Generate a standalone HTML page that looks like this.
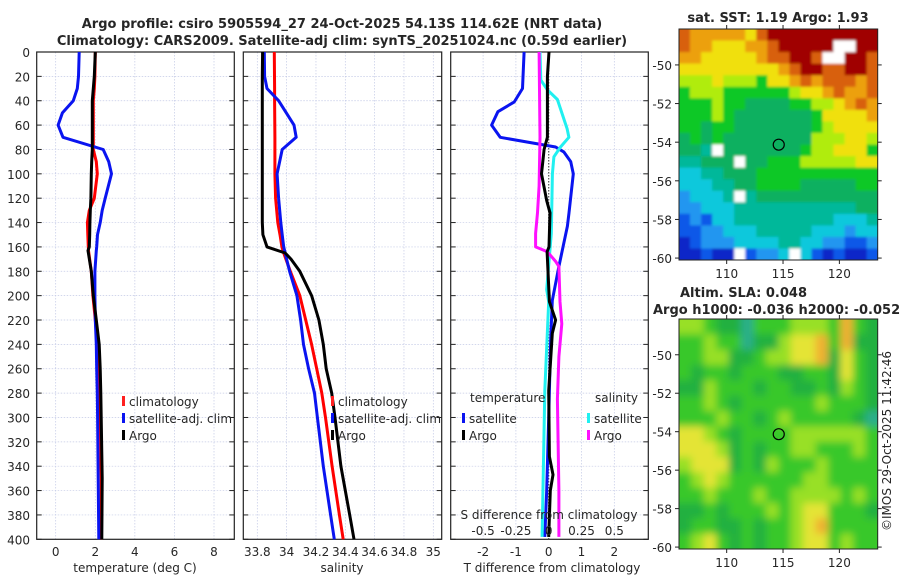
<!DOCTYPE html>
<html><head><meta charset="utf-8"><style>
body{margin:0;background:#fff;}
svg{display:block;font-family:"DejaVu Sans","Liberation Sans",sans-serif;}
</style></head><body>
<svg id="c" width="900" height="580" viewBox="0 0 900 580" xmlns="http://www.w3.org/2000/svg">
<defs>
<filter id="blur" x="-5%" y="-5%" width="110%" height="110%"><feGaussianBlur stdDeviation="4"/></filter>
<filter id="blur2" x="-5%" y="-5%" width="110%" height="110%"><feGaussianBlur stdDeviation="1.2"/></filter>
<clipPath id="clipSla"><rect x="679" y="319" width="198.7" height="230"/></clipPath>
<clipPath id="clipSst"><rect x="679" y="29" width="198.7" height="231"/></clipPath>
</defs>
</svg>
<script>
// ---------- data ----------
const tDepth   = [0,20,30,40,50,60,70,80,90,100,120,130,140,150,160,163,180,200,220,240,260,280,300,350,400];
const tArgo    = [2.0,1.95,1.9,1.85,1.85,1.85,1.85,1.85,1.82,1.8,1.78,1.75,1.73,1.72,1.7,1.63,1.8,1.9,2.05,2.2,2.25,2.28,2.3,2.35,2.33];
const tClim    = [2.0,1.98,1.95,1.9,1.9,1.9,1.9,1.9,2.05,2.1,1.95,1.7,1.6,1.62,1.65,1.66,1.8,1.88,2.0,2.1,2.15,2.2,2.25,2.3,2.3];
const tSat     = [1.19,1.15,1.09,0.89,0.34,0.12,0.37,2.4,2.68,2.82,2.5,2.35,2.25,2.11,2.07,2.05,1.98,1.98,2.0,2.05,2.07,2.1,2.12,2.15,2.18];
const sDepth   = [0,20,30,40,60,70,80,100,120,140,150,160,165,170,180,200,220,240,260,280,300,340,380,400];
const sArgo    = [33.836,33.834,33.834,33.834,33.834,33.834,33.834,33.834,33.834,33.834,33.838,33.866,33.99,34.03,34.09,34.17,34.22,34.25,34.27,34.307,34.33,34.37,34.43,34.459];
const sClim    = [33.916,33.917,33.918,33.918,33.919,33.92,33.92,33.92,33.925,33.94,33.955,33.968,33.98,33.995,34.025,34.09,34.13,34.17,34.205,34.24,34.265,34.31,34.36,34.386];
const sSat     = [33.848,33.85,33.866,33.945,34.05,34.065,33.97,33.935,33.945,33.96,33.97,33.98,33.99,34.0,34.02,34.07,34.095,34.115,34.15,34.19,34.21,34.25,34.3,34.325];
const dTdepth  = [0,30,41,49,60,70,78,82,90,100,132,143,176,204,236,300,360,398];
const dTsat    = [-0.75,-0.8,-1.05,-1.55,-1.74,-1.48,0.21,0.46,0.67,0.75,0.62,0.57,0.31,0.11,0.06,0.0,-0.06,-0.12];
const dAdepth  = [0,20,50,70,80,100,122,132,160,164,205,220,231,278,332,347,360,398];
const dTargo   = [0.01,-0.04,-0.04,-0.04,-0.14,-0.22,-0.06,0.04,0.01,-0.05,0.02,0.21,0.11,0.0,0.02,0.13,0.05,0.0];
const dSdepth  = [0,23,31,39,63,70,78,86,100,149,195,205,278,398];
const dSsat    = [-0.066,-0.06,-0.01,0.066,0.14,0.154,0.09,0.04,0.028,0.02,-0.015,0.0,-0.03,-0.05];
const dMdepth  = [0,70,110,132,149,160,164,172,176,205,223,250,285,360,398];
const dSargo   = [-0.073,-0.066,-0.073,-0.085,-0.1,-0.1,-0.01,0.053,0.078,0.086,0.10,0.078,0.066,0.078,0.078];
const depthTicks = [0,20,40,60,80,100,120,140,160,180,200,220,240,260,280,300,320,340,360,380,400];
const tTicks = [0,2,4,6,8];
const sTicks = [33.8,34,34.2,34.4,34.6,34.8,35];
const sTickLabels = ["33.8","34","34.2","34.4","34.6","34.8","35"];
const dTticks = [-2,-1,0,1,2];
const dSticks = [-0.5,-0.25,0,0.25,0.5];
const latTicks = [-50,-52,-54,-56,-58,-60];
const lonTicks = [110,115,120];
const argoLon = 114.62, argoLat = -54.13;
const sstGrid = [
"a999998abbbbbbbbbb",
"a9988899abbbbbWWbb",
"99888889aabbaWWbba",
"8888888889abbaabba",
"77787776889a9aaa9a",
"67776666667889a99a",
"6667665555667789a9",
"666765555555688889",
"665665555555678888",
"565655555555777887",
"554W55555556778886",
"44555W556667777788",
"334455566666666666",
"333445566665555566",
"23334W455555555555",
"223334444444444455",
"121334444444443334",
"112233344444333233",
"012223333443322112",
"00100W1223W3101001"];
const slaGrid = [
"7765546667776965",
"6676645578896955",
"6677556778895865",
"6566566655665865",
"5576665665565765",
"6676566666676665",
"6667665676666654",
"8876566667777776",
"8887565667766676",
"7888565766676666",
"6787666666776666",
"6676667667777676",
"5565666767886665",
"5665565667896666",
"6786565667886766"];
const sstColors = {"0":"#0a28c8","1":"#1058e8","2":"#2096f0","3":"#10c8dc","4":"#00b89a","5":"#10b060","6":"#10c828","7":"#b0ec10","8":"#f0e010","9":"#eca010","a":"#d86008","b":"#a00000","W":"#ffffff"};
const slaColors = {"4":"#2aae8a","5":"#22b040","6":"#38c82a","7":"#98e028","8":"#e4e434","9":"#f0b030"};

// ---------- helpers ----------
const NS="http://www.w3.org/2000/svg";
const svg=document.getElementById('c');
function mk(tag,attrs,parent){const e=document.createElementNS(NS,tag);for(const k in attrs)e.setAttribute(k,attrs[k]);(parent||svg).appendChild(e);return e;}
function txt(s,x,y,o,parent){o=o||{};const e=mk('text',{x:x,y:y,'font-size':o.fs||12,fill:o.fill||'#262626','text-anchor':o.anchor||'start','font-weight':o.bold?'bold':'normal'},parent);if(o.rot)e.setAttribute('transform',o.rot);e.textContent=s;return e;}
const PT=52, PB=539.3;
const yD=d=>PT+(d/400)*(PB-PT);
function lin(d0,d1,r0,r1){return v=>r0+(v-d0)/(d1-d0)*(r1-r0);}
const xT=lin(0,8,55.7,214);
const xS=lin(33.8,35,257.3,433.3);
const xDT=lin(0,2,548.7,614.3);
const xDS=lin(0,0.5,548.7,614.3);

function panel(name,x0,x1,xticks,xf){
  const g=mk('g',{},svg);
  
  
  depthTicks.forEach(d=>{const y=yD(d);mk('line',{x1:x0,x2:x1,y1:y,y2:y,stroke:'#c4cae6','stroke-width':0.7,'stroke-dasharray':'1.5,1.5'},g);
    mk('line',{x1:x0,x2:x0+5,y1:y,y2:y,stroke:'#222'},g);mk('line',{x1:x1-5,x2:x1,y1:y,y2:y,stroke:'#222'},g);});
  xticks.forEach(v=>{const x=xf(v);mk('line',{x1:x,x2:x,y1:PT,y2:PB,stroke:'#c4cae6','stroke-width':0.7,'stroke-dasharray':'1.5,1.5'},g);});
  mk('rect',{x:x0,y:PT,width:x1-x0,height:PB-PT,fill:'none',stroke:'#222','stroke-width':1.2},g);
  return g;
}
function line(g,name,xs,ds,xf,color,w,dash){
  const p=xs.map((v,i)=>xf(v).toFixed(1)+','+yD(ds[i]).toFixed(1)).join(' ');
  const e=mk('polyline',{points:p,fill:'none',stroke:color,'stroke-width':w||3,'stroke-linejoin':'round'},g);
  if(dash)e.setAttribute('stroke-dasharray',dash);
  
  
}
function legend(g,x,y,label,color,name){
  mk('rect',{x:x,y:y-10,width:3,height:10,fill:color},g);
  const t=txt(label,x+7,y,{},g);
  
  
}

const t1=txt('Argo profile: csiro 5905594_27 24-Oct-2025 54.13S 114.62E (NRT data)',342,28,{bold:true,anchor:'middle',fs:13});


const t2=txt('Climatology: CARS2009. Satellite-adj clim: synTS_20251024.nc (0.59d earlier)',342,45,{bold:true,anchor:'middle',fs:13});



depthTicks.forEach(d=>{const e=txt(String(d),30,yD(d)+5,{anchor:'end'});
  
  });

const g1=panel('temperature-panel',36.7,234.3,tTicks,xT);
line(g1,'temperature-climatology-line',tClim,tDepth,xT,'#ff0000',3);
line(g1,'temperature-satellite-line',tSat,tDepth,xT,'#0a14f0',3);
line(g1,'temperature-argo-line',tArgo,tDepth,xT,'#000000',3);
tTicks.forEach(v=>{const e=txt(String(v),xT(v),556,{anchor:'middle'},g1);
  
  });
const xl1=txt('temperature (deg C)',135,572,{anchor:'middle'},g1);


legend(g1,122,406,'climatology','#ff2020','legend-climatology');
legend(g1,122,423,'satellite-adj. clim','#0a14f0','legend-satellite-adj');
legend(g1,122,440,'Argo','#000','legend-argo');

const g2=panel('salinity-panel',243.3,441.7,sTicks,xS);
line(g2,'salinity-climatology-line',sClim,sDepth,xS,'#ff0000',3);
line(g2,'salinity-satellite-line',sSat,sDepth,xS,'#0a14f0',3);
line(g2,'salinity-argo-line',sArgo,sDepth,xS,'#000000',3);
sTicks.forEach((v,i)=>{const e=txt(sTickLabels[i],xS(v),556,{anchor:'middle'},g2);
  
  });
const xl2=txt('salinity',342,572,{anchor:'middle'},g2);


legend(g2,331,406,'climatology','#ff2020','legend-climatology-s');
legend(g2,331,423,'satellite-adj. clim','#0a14f0','legend-satellite-adj-s');
legend(g2,331,440,'Argo','#000','legend-argo-s');

const g3=panel('difference-panel',450.7,648.3,dTticks,xDT);
line(g3,'zero-line',[0,0],[0,400],xDT,'#555',1.2,'1.5,1.5');
line(g3,'t-diff-satellite-line',dTsat,dTdepth,xDT,'#0a14f0',3);
line(g3,'s-diff-satellite-line',dSsat,dSdepth,xDS,'#20f0f0',3);
line(g3,'s-diff-argo-line',dSargo,dMdepth,xDS,'#ff10ff',3);
line(g3,'t-diff-argo-line',dTargo,dAdepth,xDT,'#000',3);
dTticks.forEach(v=>{const e=txt(String(v),xDT(v),556,{anchor:'middle'},g3);
  
  });
const xl3=txt('T difference from climatology',552,572,{anchor:'middle'},g3);


const sl=txt('S difference from climatology',549,519,{anchor:'middle'},g3);


dSticks.forEach(v=>{const e=txt(String(v),xDS(v),535,{anchor:'middle'},g3);
  
  });
txt('temperature',470,402,{},g3);
legend(g3,462,423,'satellite','#0a14f0','legend-t-satellite');
legend(g3,462,440,'Argo','#000','legend-t-argo');
txt('salinity',595,402,{},g3);
legend(g3,587,423,'satellite','#20f0f0','legend-s-satellite');
legend(g3,587,440,'Argo','#ff10ff','legend-s-argo');

const LON0=105.77,LON1=123.4,LAT0=-48.14,LAT1=-60.1;
function map(name,grid,colors,top,bottom,filt,clip){
  const g=mk('g',{},svg);
  
  
  const L=679,R=877.7;
  const xL=lin(LON0,LON1,L,R), yL=lin(LAT0,LAT1,top,bottom);
  const cg=mk('g',{'clip-path':'url(#'+clip+')'},g);
  mk('rect',{x:L,y:top,width:R-L,height:bottom-top,fill:colors[grid[Math.floor(grid.length/2)][5]]},cg);
  const fg=mk('g',{filter:'url(#'+filt+')'},cg);
  const rows=grid.length, cols=grid[0].length;
  const dlon=(LON1-LON0)/cols, dlat=(LAT1-LAT0)/rows;
  grid.forEach((row,r)=>{for(let c=0;c<cols;c++){
    const lo=LON0+c*dlon, la=LAT0+r*dlat;
    const x=xL(lo), y=yL(la);
    const x0=c===0?x-10:x, y0=r===0?y-10:y;
    const x1=c===cols-1?xL(lo+dlon)+10:xL(lo+dlon)+0.5, y1=r===rows-1?yL(la+dlat)+10:yL(la+dlat)+0.5;
    const cell=mk('rect',{x:x0.toFixed(1),y:y0.toFixed(1),width:(x1-x0).toFixed(1),height:(y1-y0).toFixed(1),fill:colors[row[c]]},fg);
    
    
  }});
  mk('rect',{x:L,y:top,width:R-L,height:bottom-top,fill:'none',stroke:'#222','stroke-width':1},g);
  latTicks.forEach(v=>{const y=yL(v);mk('line',{x1:L-4,x2:L,y1:y,y2:y,stroke:'#222'},g);mk('line',{x1:R,x2:R+4,y1:y,y2:y,stroke:'#222'},g);
    const e=txt(String(v),672,y+5,{anchor:'end'},g);
    
    });
  lonTicks.forEach(v=>{const x=xL(v);mk('line',{x1:x,x2:x,y1:bottom,y2:bottom+4,stroke:'#222'},g);mk('line',{x1:x,x2:x,y1:top-4,y2:top,stroke:'#222'},g);
    const e=txt(String(v),x,bottom+18,{anchor:'middle'},g);
    
    });
  const m=mk('circle',{cx:xL(argoLon),cy:yL(argoLat),r:5.5,fill:'none',stroke:'#000','stroke-width':1.2},g);
  
  
}
map('sst-map',sstGrid,sstColors,29,260,'blur2','clipSst');
map('sla-map',slaGrid,slaColors,319,549,'blur','clipSla');
const mt1=txt('sat. SST: 1.19 Argo: 1.93',778,22,{bold:true,anchor:'middle',fs:13});


const mt2=txt('Altim. SLA: 0.048',680,297,{bold:true,fs:13});


const mt3=txt('Argo h1000: -0.036 h2000: -0.052',653,314,{bold:true,fs:13});


const cp=txt('©IMOS 29-Oct-2025 11:42:46',0,0,{anchor:'middle',rot:'translate(891,441) rotate(-90)'});


</script>
</body></html>
